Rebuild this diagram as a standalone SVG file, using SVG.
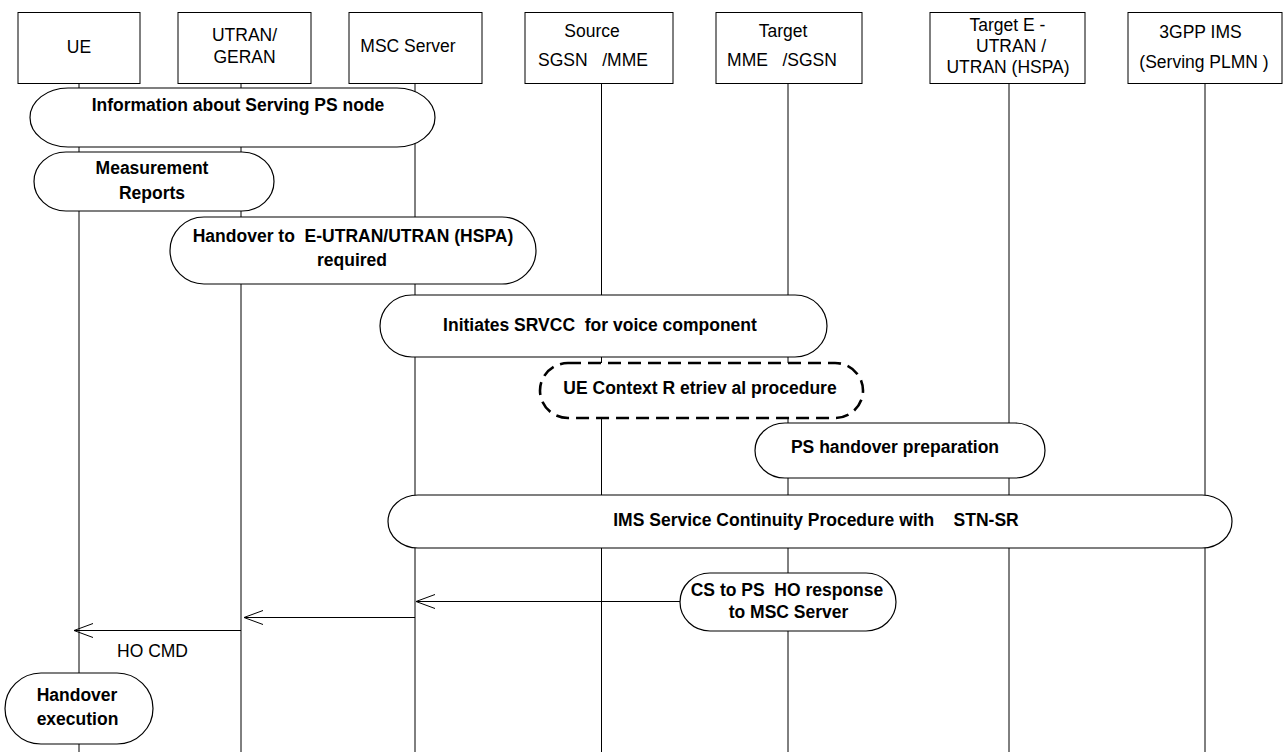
<svg xmlns="http://www.w3.org/2000/svg" width="1284" height="752" viewBox="0 0 1284 752">
<style>
text { font-family: "Liberation Sans", Arial, sans-serif; font-size: 17.5px; fill: #000; white-space: pre; text-anchor: middle; }
.b { font-weight: bold; }
.hdr { fill: #fff; stroke: #000; stroke-width: 1; }
.life { stroke: #000; stroke-width: 1; fill: none; }
.pill { fill: #fff; stroke: #000; stroke-width: 1.2; }
.dash { fill: #fff; stroke: #000; stroke-width: 2.6; stroke-dasharray: 13 7; }
.msg { stroke: #000; stroke-width: 1; fill: none; }
</style>
<defs>
<marker id="open" markerUnits="userSpaceOnUse" markerWidth="24" markerHeight="18" refX="20" refY="8" orient="auto" viewBox="0 0 24 16">
<path d="M1 1 L20 8 L1 15" fill="none" stroke="#000" stroke-width="1"/>
</marker>
</defs>
<rect width="1284" height="752" fill="#fff"/>
<g id="lifelines">
<line class="life" x1="79" y1="83" x2="79" y2="752"/>
<line class="life" x1="241" y1="83" x2="241" y2="752"/>
<line class="life" x1="415" y1="83" x2="415" y2="752"/>
<line class="life" x1="601.5" y1="83" x2="601.5" y2="752"/>
<line class="life" x1="788" y1="83" x2="788" y2="752"/>
<line class="life" x1="1009" y1="83" x2="1009" y2="752"/>
<line class="life" x1="1205" y1="83" x2="1205" y2="752"/>
</g>
<g id="ue"><rect class="hdr" x="18" y="12.5" width="122" height="71"/><text x="79" y="53">UE</text></g>
<g id="utran"><rect class="hdr" x="178" y="12.5" width="133" height="71"/><text x="244.5" y="41">UTRAN/</text><text x="244.5" y="63">GERAN</text></g>
<g id="msc"><rect class="hdr" x="349" y="12.5" width="133" height="71"/><text x="408" y="52">MSC Server</text></g>
<g id="source"><rect class="hdr" x="525" y="12.5" width="148" height="71"/><text x="592" y="37">Source</text><text x="593" y="66">SGSN   /MME</text></g>
<g id="target"><rect class="hdr" x="716" y="12.5" width="146" height="71"/><text x="783" y="37">Target</text><text x="782" y="66">MME   /SGSN</text></g>
<g id="targete"><rect class="hdr" x="930" y="12.5" width="155" height="71"/><text x="1007.5" y="31">Target E -</text><text x="1011" y="52">UTRAN /</text><text x="1008" y="73">UTRAN (HSPA)</text></g>
<g id="ims"><rect class="hdr" x="1128" y="12.5" width="154" height="71"/><text x="1200.5" y="38">3GPP IMS</text><text x="1204" y="68">(Serving PLMN )</text></g>

<g id="info"><rect class="pill" x="30" y="88" width="405" height="59" rx="38" ry="29.5"/><text class="b" x="238" y="111">Information about Serving PS node</text></g>
<g id="meas"><rect class="pill" x="34" y="152" width="240" height="59" rx="32" ry="29.5"/><text class="b" x="152" y="174">Measurement</text><text class="b" x="152" y="199">Reports</text></g>
<g id="horeq"><rect class="pill" x="170" y="217" width="366" height="67" rx="34" ry="33.5"/><text class="b" x="353" y="242">Handover to  E-UTRAN/UTRAN (HSPA)</text><text class="b" x="352" y="266">required</text></g>
<g id="srvcc"><rect class="pill" x="380" y="295" width="447" height="62" rx="32" ry="31"/><text class="b" x="600" y="331">Initiates SRVCC  for voice component</text></g>
<g id="uectx"><rect class="dash" x="540" y="363" width="323" height="55" rx="28" ry="27.5"/><text class="b" x="700" y="394">UE Context R etriev al procedure</text></g>
<g id="pshp"><rect class="pill" x="755" y="423" width="290" height="55" rx="30" ry="27.5"/><text class="b" x="895" y="453">PS handover preparation</text></g>
<g id="imsproc"><rect class="pill" x="388" y="495" width="844" height="53" rx="30" ry="26.5"/><text class="b" x="816" y="526">IMS Service Continuity Procedure with    STN-SR</text></g>
<g id="csps"><rect class="pill" x="680" y="573" width="216" height="58" rx="30" ry="29"/><text class="b" x="787" y="596">CS to PS  HO response</text><text class="b" x="788.5" y="618">to MSC Server</text></g>
<g id="hoexec"><rect class="pill" x="5" y="673" width="148" height="71" rx="36" ry="35.5"/><text class="b" x="77" y="701">Handover</text><text class="b" x="77.5" y="725">execution</text></g>

<g id="connectors">
<line class="msg" x1="680" y1="601.5" x2="416" y2="601.5" marker-end="url(#open)"/>
<line class="msg" x1="415" y1="617.5" x2="244" y2="617.5" marker-end="url(#open)"/>
<line class="msg" x1="241" y1="630.5" x2="74" y2="630.5" marker-end="url(#open)"/>
<text x="152.5" y="657">HO CMD</text>
</g>
</svg>
